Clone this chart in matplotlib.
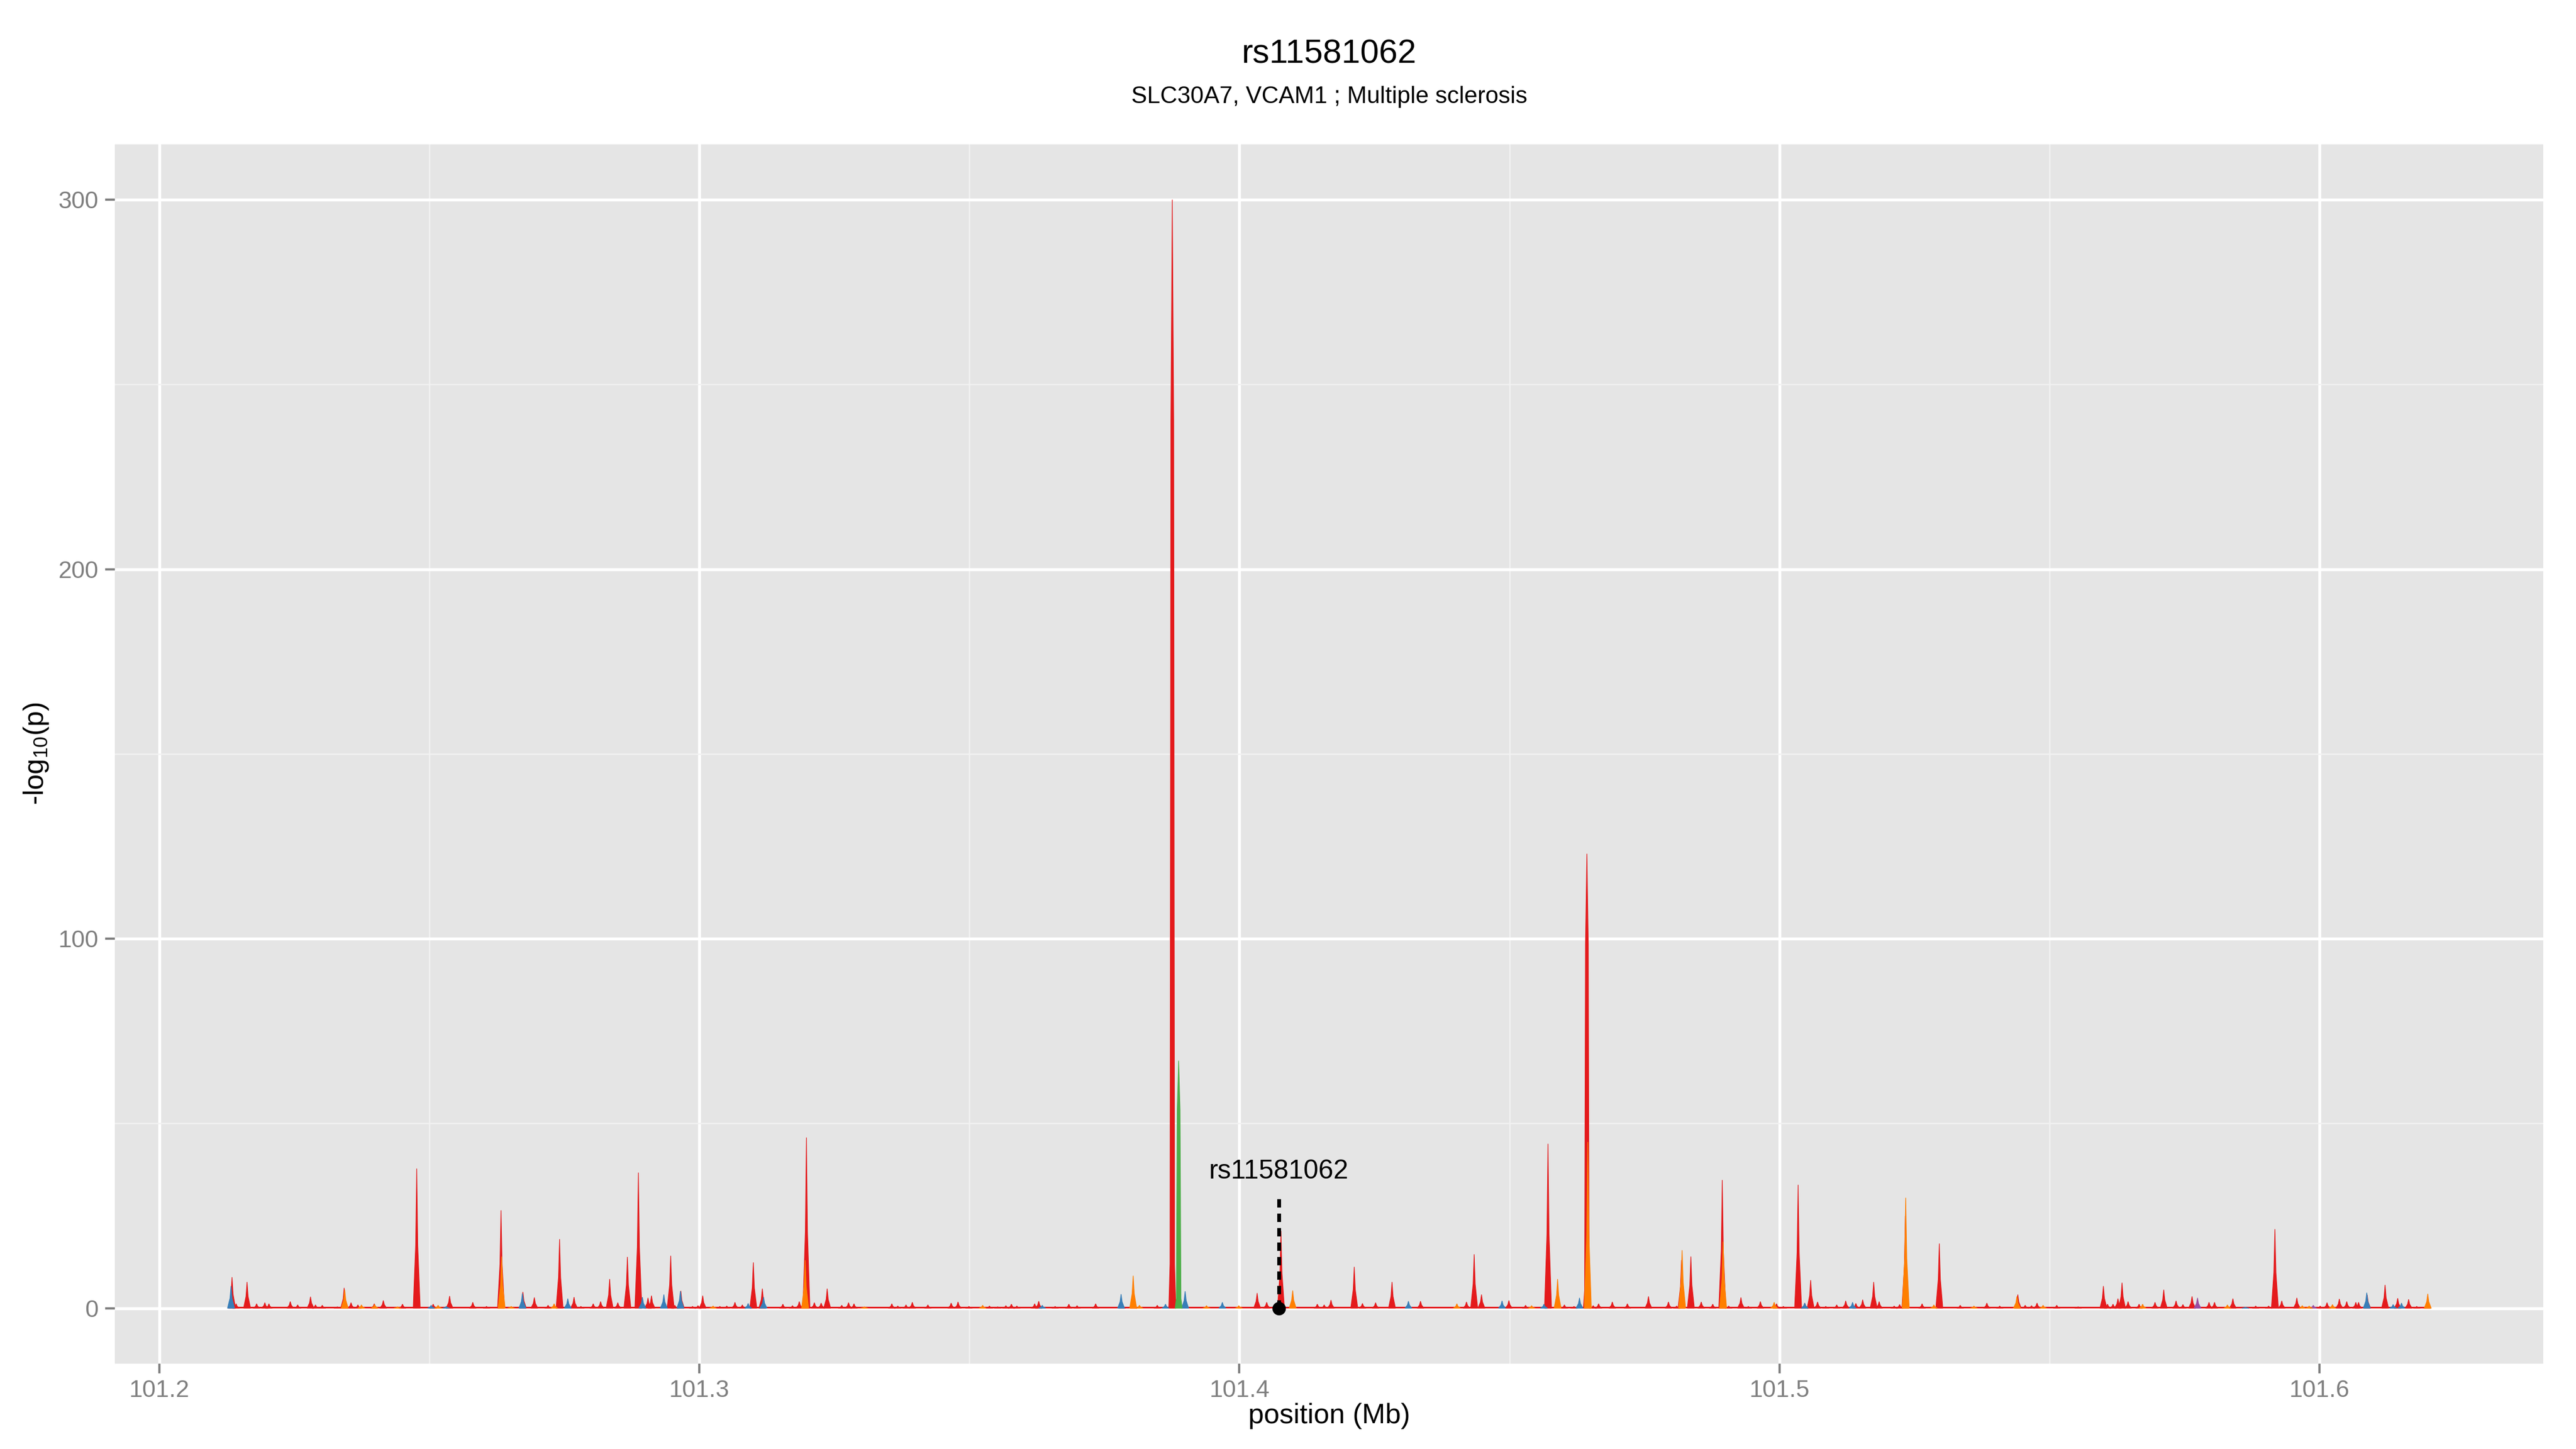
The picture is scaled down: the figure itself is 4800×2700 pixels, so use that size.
import numpy as np
import matplotlib
matplotlib.use("Agg")
import matplotlib.pyplot as plt

plt.rcParams["font.family"] = ["Liberation Sans", "DejaVu Sans"]
plt.rcParams["mathtext.fontset"] = "custom"
plt.rcParams["mathtext.rm"] = "Liberation Sans"
plt.rcParams["mathtext.default"] = "regular"

snp = "rs11581062"
snp_pos = 101.40728
subtitle = "SLC30A7, VCAM1 ; Multiple sclerosis"

# peaks of -log10(p) by LD colour class: (position in Mb, height)
red_pos = [101.21349, 101.21424, 101.21627, 101.21804, 101.21956, 101.22032, 101.22427, 101.22564,
           101.22802, 101.22894, 101.23020, 101.23299, 101.23425, 101.23552, 101.23679, 101.23982,
           101.24150, 101.24505, 101.24768, 101.25073, 101.25377, 101.25806, 101.26060, 101.26329,
           101.26734, 101.26946, 101.27200, 101.27413, 101.27681, 101.27808, 101.28036, 101.28173,
           101.28340, 101.28491, 101.28669, 101.28872, 101.29050, 101.29115, 101.29470, 101.29546,
           101.29658, 101.29875, 101.29976, 101.30063, 101.30381, 101.30508, 101.30660, 101.30797,
           101.31000, 101.31167, 101.31547, 101.31725, 101.31851, 101.31983, 101.32130, 101.32256,
           101.32368, 101.32637, 101.32763, 101.32864, 101.33564, 101.33675, 101.33827, 101.33944,
           101.34232, 101.34663, 101.34790, 101.34992, 101.35372, 101.35524, 101.35676, 101.35778,
           101.35879, 101.36209, 101.36284, 101.36588, 101.36842, 101.36994, 101.37338, 101.37830,
           101.38040, 101.38479, 101.38757, 101.40328, 101.40505, 101.40769, 101.41442, 101.41569,
           101.41695, 101.42126, 101.42278, 101.42521, 101.42825, 101.43353, 101.44204, 101.44346,
           101.44482, 101.44989, 101.45298, 101.45713, 101.46017, 101.46194, 101.46433, 101.46549,
           101.46650, 101.46904, 101.47183, 101.47573, 101.47943, 101.48094, 101.48185, 101.48358,
           101.48550, 101.48763, 101.48940, 101.49058, 101.49285, 101.49422, 101.49645, 101.49944,
           101.50071, 101.50344, 101.50466, 101.50576, 101.50704, 101.50856, 101.51058, 101.51225,
           101.51413, 101.51539, 101.51743, 101.51844, 101.52122, 101.52223, 101.52330, 101.52639,
           101.52958, 101.53345, 101.53838, 101.54076, 101.54411, 101.54548, 101.54665, 101.54767,
           101.55132, 101.55528, 101.55996, 101.56072, 101.56174, 101.56265, 101.56341, 101.56453,
           101.56656, 101.56951, 101.57113, 101.57341, 101.57468, 101.57637, 101.57951, 101.58053,
           101.58393, 101.58815, 101.59054, 101.59171, 101.59298, 101.59577, 101.60009, 101.60136,
           101.60364, 101.60501, 101.60669, 101.60720, 101.60880, 101.61211, 101.61444, 101.61647,
           101.61797, 101.61990]
red_h = [8.4, 1.2, 7.1, 1.2, 1.5, 1.2, 1.8, 0.9,
         3.1, 0.9, 0.8, 0.4, 5.5, 1.5, 0.9, 1.2,
         2.1, 1.1, 37.8, 1.1, 3.3, 1.6, 0.5, 26.5,
         4.4, 2.9, 0.8, 18.7, 3.0, 0.5, 1.2, 1.8,
         7.9, 1.5, 13.9, 36.7, 2.8, 3.4, 14.2, 0.8,
         4.7, 0.5, 0.7, 3.4, 0.5, 0.6, 1.6, 0.9,
         12.4, 5.3, 1.1, 0.7, 1.8, 46.2, 1.5, 1.4,
         5.3, 0.8, 1.5, 1.2, 1.2, 0.6, 0.9, 1.6,
         0.9, 1.4, 1.7, 0.5, 0.6, 0.4, 0.7, 1.1,
         0.6, 1.2, 1.9, 0.5, 1.1, 0.7, 1.2, 1.0,
         1.2, 0.8, 300.0, 4.1, 1.6, 20.9, 1.1, 0.9,
         2.2, 11.2, 1.3, 1.5, 7.1, 1.9, 1.7, 14.6,
         3.7, 2.1, 0.8, 44.5, 0.9, 0.5, 123.0, 0.7,
         1.2, 1.7, 1.2, 3.2, 1.7, 0.6, 13.0, 14.0,
         1.7, 1.1, 34.7, 0.6, 2.9, 0.5, 1.8, 1.2,
         0.5, 33.4, 1.4, 7.6, 1.7, 0.5, 0.9, 2.0,
         1.3, 2.3, 7.1, 1.8, 0.6, 1.0, 25.0, 1.2,
         17.5, 0.8, 1.4, 0.6, 3.7, 0.8, 0.7, 1.4,
         0.8, 0.4, 6.0, 1.1, 1.1, 2.6, 6.9, 1.8,
         1.1, 1.6, 5.0, 2.0, 1.0, 3.2, 1.6, 1.6,
         2.6, 0.6, 0.6, 21.4, 2.0, 2.8, 0.6, 1.5,
         2.5, 1.8, 1.6, 1.6, 3.6, 6.3, 2.7, 2.4,
         0.5, 1.5]

orange_pos = [101.23435, 101.23745, 101.23990, 101.24413, 101.25164, 101.26340, 101.26517, 101.27312,
              101.30255, 101.31960, 101.33057, 101.35246, 101.38033, 101.38149, 101.39390, 101.39988,
              101.40986, 101.44026, 101.45409, 101.45891, 101.46450, 101.48196, 101.48955, 101.49900,
              101.52336, 101.52857, 101.53599, 101.54395, 101.54879, 101.56722, 101.58292, 101.59678,
              101.59805, 101.60237, 101.62001]
orange_h = [5.0, 0.9, 1.0, 0.4, 0.8, 14.0, 0.5, 1.2,
            0.6, 13.0, 0.4, 0.8, 8.8, 0.8, 0.7, 0.7,
            4.8, 1.2, 0.7, 7.9, 45.0, 15.7, 18.0, 1.6,
            29.9, 0.9, 0.6, 3.2, 0.8, 1.1, 0.9, 0.7,
            0.6, 1.0, 3.9]

blue_pos = [101.21330, 101.25035, 101.25315, 101.26725, 101.27565, 101.28947, 101.29344, 101.29650,
            101.30904, 101.31190, 101.36350, 101.37809, 101.38631, 101.38995, 101.39684, 101.43129,
            101.44862, 101.45638, 101.46296, 101.50466, 101.51352, 101.58627, 101.60872, 101.61360,
            101.61515]
blue_h = [6.0, 0.8, 0.5, 4.0, 2.6, 3.0, 3.7, 4.6,
          1.3, 3.0, 0.8, 3.8, 1.1, 4.6, 1.6, 1.9,
          2.0, 1.1, 2.8, 1.4, 1.6, 0.3, 4.2, 1.0,
          1.4]

green_pos = [101.38875]
green_h = [67.0]

purple_pos = [101.57738, 101.59882]
purple_h = [2.8, 0.8]

floor_h = 0.35
label_h = 37
stem_h = 30

colors = {"red": "#E41A1C", "orange": "#FF7F00", "blue": "#377EB8",
          "green": "#4DAF4A", "purple": "#984EA3"}
half_w = 0.00065

# spike outline: sharp triangles for small peaks, steep columns for the big ones
small_dx = np.array([-1.0, -0.3, 0.0, 0.3, 1.0])
small_dy = np.array([0.0, 0.45, 1.0, 0.45, 0.0])
big_dx = np.array([-1.0, -0.65, -0.4, 0.0, 0.4, 0.65, 1.0])
big_dy = np.array([0.0, 0.04, 0.8, 1.0, 0.8, 0.04, 0.0])

fig = plt.figure(figsize=(16, 9), dpi=300)
ax = fig.add_axes([0.0446, 0.0589, 0.9427, 0.8415])
ax.set_facecolor("#E5E5E5")

# baseline strip under all peaks
x_all = red_pos + orange_pos + blue_pos
ax.fill_between([min(x_all) - half_w, max(x_all) + half_w], 0, floor_h,
                color=colors["red"], lw=0, zorder=2)

layers = [("red", red_pos, red_h), ("blue", blue_pos, blue_h),
          ("purple", purple_pos, purple_h), ("orange", orange_pos, orange_h),
          ("green", green_pos, green_h)]
for name, pos, hts in layers:
    for p, h in zip(pos, hts):
        if h > 50:
            dx, dy = big_dx, big_dy
        else:
            dx, dy = small_dx, small_dy
        ax.fill(p + half_w * dx, h * dy, color=colors[name], lw=0.3,
                ec=colors[name], zorder=3)

# annotation of the index SNP
ax.plot([snp_pos, snp_pos], [0, stem_h], color="black", lw=1.7,
        ls=(0, (2.2, 1.6)), zorder=5)
ax.plot([snp_pos], [0], "o", color="black", ms=5, zorder=6)
ax.text(snp_pos, label_h, snp, ha="center", va="center", fontsize=12, zorder=6)

ax.set_xlim(101.1918, 101.6414)
ax.set_ylim(-15, 315)
ax.set_xticks([101.2, 101.3, 101.4, 101.5, 101.6])
ax.set_xticklabels(["101.2", "101.3", "101.4", "101.5", "101.6"])
ax.set_yticks([0, 100, 200, 300])
ax.set_xticks([101.25, 101.35, 101.45, 101.55], minor=True)
ax.set_yticks([50, 150, 250], minor=True)
ax.grid(which="major", color="white", lw=1.3, zorder=0)
ax.grid(which="minor", color="#F2F2F2", lw=0.6, zorder=0)
ax.set_axisbelow(True)
for s in ax.spines.values():
    s.set_visible(False)
ax.tick_params(which="major", length=4.3, width=1.0, color="#7F7F7F",
               labelcolor="#7F7F7F", labelsize=10.8, pad=3)
ax.tick_params(which="minor", length=0)

panel_cx = 0.0446 + 0.9427 / 2
fig.text(panel_cx, 0.0227, "position (Mb)", ha="center", va="center", fontsize=12.5)
fig.text(0.014, 0.48, "-log$_{10}$(p)", ha="center", va="center",
         rotation=90, fontsize=12.5)

fig.text(panel_cx, 0.9626, snp, ha="center", va="center", fontsize=15)
fig.text(panel_cx, 0.9333, subtitle, ha="center", va="center", fontsize=10.6)

fig.savefig("out.png", dpi=300)
